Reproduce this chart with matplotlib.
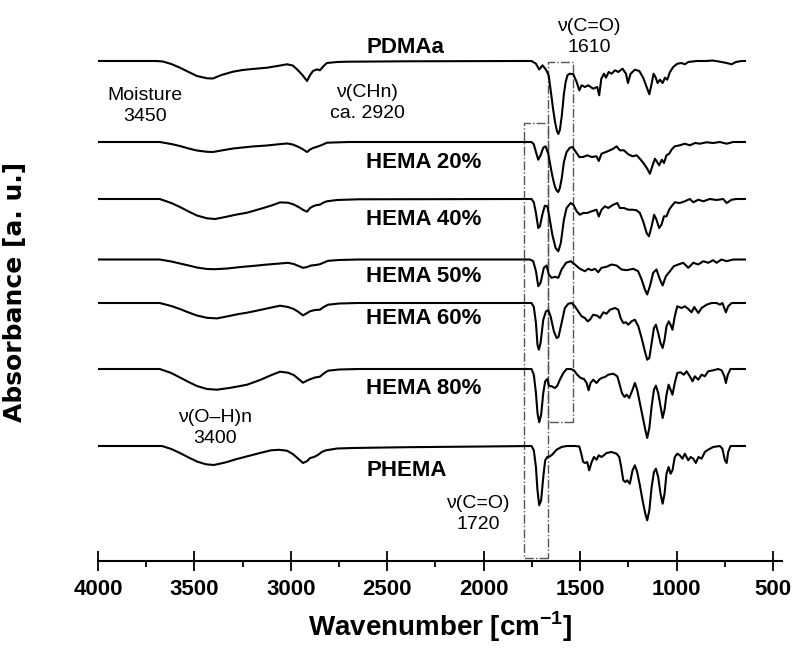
import numpy as np
import matplotlib
matplotlib.use("Agg")
import matplotlib.pyplot as plt
from matplotlib.patches import Rectangle

plt.rcParams["font.family"] = ["Liberation Sans", "DejaVu Sans"]
plt.rcParams["mathtext.fontset"] = "custom"
plt.rcParams["mathtext.rm"] = "Liberation Sans"
plt.rcParams["mathtext.bf"] = "Liberation Sans:bold"

# FTIR spectra: (wavenumber cm-1, signal relative to baseline, a.u.)
pdmaa = [
    (4000, 0), (3700, 0), (3663, -0.5), (3620, -3), (3575, -6.7), (3530, -11), (3487, -15),
    (3435, -17.3), (3404, -17.5), (3360, -14), (3300, -10.7), (3250, -9), (3200, -8),
    (3124, -6.7), (3070, -5), (3020, -3.3), (2990, -4.5), (2968, -8.3), (2940, -14),
    (2916, -20), (2900, -14), (2885, -10), (2864, -8.3), (2849, -9.3), (2830, -5),
    (2813, -2), (2760, -1), (2709, -0.7), (2400, -0.3), (1800, 0), (1752, 0), (1729, -2.7),
    (1712, -8.5), (1695, -4.3), (1677, -8.7), (1663, -14.3), (1648, -36), (1640, -48),
    (1630, -61), (1620, -70), (1613, -73), (1605, -69), (1595, -55), (1584, -33),
    (1575, -21), (1565, -14), (1553, -12.7), (1535, -13.3), (1518, -21), (1504, -29.3),
    (1492, -24.3), (1475, -26), (1458, -24.3), (1432, -27.7), (1411, -26), (1401, -34.3),
    (1390, -17.7), (1376, -12.7), (1366, -16.7), (1352, -11), (1337, -12.7), (1319, -9.3),
    (1302, -11), (1280, -7.7), (1262, -12.7), (1252, -22), (1238, -12.7), (1216, -8.7),
    (1193, -10), (1173, -16.7), (1155, -26), (1141, -33.3), (1129, -22.7), (1119, -12.7),
    (1109, -16), (1098, -22), (1086, -18.7), (1072, -22), (1060, -16.7), (1048, -18.7),
    (1034, -11), (1017, -6), (996, -2.7), (974, -2), (957, -3.3), (939, -1), (896, 0),
    (844, 0), (813, 0.5), (775, -0.7), (740, -2), (714, -3.3), (692, -1), (662, 0), (645, 0),
]

hema20 = [
    (4000, 0), (3680, 0), (3620, -2), (3575, -4), (3530, -6.5), (3487, -8.5), (3435, -9.8),
    (3404, -10), (3360, -8.5), (3300, -6.5), (3200, -4.5), (3124, -3.5), (3050, -2),
    (3020, -1.5), (2990, -2.5), (2965, -4.5), (2940, -7), (2916, -10), (2900, -7.5),
    (2885, -6), (2860, -4.5), (2839, -3), (2813, -0.7), (2700, 0), (1752, 0), (1740, -2.3),
    (1729, -10), (1717, -17.7), (1705, -13.3), (1691, -5.7), (1679, -4.3), (1665, -11.7),
    (1648, -30), (1638, -39), (1630, -45), (1620, -49), (1613, -50), (1605, -46),
    (1595, -36), (1584, -20), (1570, -10), (1553, -5.7), (1539, -5), (1522, -10),
    (1504, -15), (1484, -15), (1463, -13.3), (1440, -15), (1415, -14.3), (1403, -19),
    (1389, -11.7), (1366, -10), (1345, -8.3), (1328, -6.7), (1311, -4.3), (1294, -8.3),
    (1273, -8.3), (1250, -12.3), (1228, -14.3), (1207, -13.3), (1190, -16.7), (1169, -21.7),
    (1152, -26.7), (1138, -31.7), (1124, -23.3), (1112, -16.7), (1104, -19), (1090, -23.3),
    (1076, -17.7), (1065, -21), (1052, -13.3), (1038, -11.7), (1026, -7.7), (1009, -4.3),
    (983, -3.3), (957, -1.7), (931, -3.3), (904, -1), (879, -1.7), (844, -0.3), (810, -1),
    (775, 0), (740, -1.7), (706, 0), (645, 0),
]

hema40 = [
    (4000, 0), (3680, 0), (3620, -4), (3575, -8), (3530, -12.5), (3487, -16.5), (3435, -19.3),
    (3393, -20), (3340, -18), (3280, -15.5), (3227, -13.7), (3160, -10), (3100, -6.5),
    (3056, -3.4), (3015, -3.7), (2985, -5.5), (2960, -8), (2935, -11), (2916, -12.7),
    (2900, -9), (2885, -7.3), (2865, -6), (2849, -5.7), (2830, -3.5), (2813, -2.3),
    (2760, -1), (2650, -0.3), (1752, 0), (1740, -3.3), (1729, -14), (1717, -29),
    (1708, -27.3), (1696, -15.7), (1683, -6.7), (1670, -7.3), (1660, -17.3), (1644, -35.7),
    (1627, -49), (1613, -52.3), (1600, -44), (1584, -20.7), (1570, -9), (1549, -4),
    (1535, -5.7), (1518, -12.3), (1501, -15.7), (1484, -14), (1463, -14), (1440, -12.3),
    (1415, -10.7), (1403, -17.5), (1389, -10.7), (1371, -7.3), (1354, -9), (1328, -5.7),
    (1307, -4), (1294, -9), (1273, -9), (1250, -10.7), (1228, -10.7), (1207, -11.3),
    (1190, -14), (1173, -22.3), (1155, -34), (1143, -37.3), (1129, -27.3), (1116, -15.7),
    (1104, -20.7), (1090, -29), (1078, -25.7), (1065, -17.3), (1052, -17.3), (1038, -10.7),
    (1026, -7.3), (1009, -3.3), (983, -4), (957, -2.3), (931, 0), (913, -3.3), (887, -0.7),
    (861, -2.3), (827, 0), (792, -1), (758, 0), (740, -4), (714, -0.7), (689, 0), (645, 0),
]

hema50 = [
    (4000, 0), (3680, 0), (3620, -2), (3575, -4), (3530, -6), (3487, -8), (3435, -9.5),
    (3393, -9.7), (3330, -9), (3260, -7.5), (3200, -6.5), (3120, -5), (3056, -4),
    (3015, -3.3), (2985, -4.5), (2960, -6.5), (2937, -8.3), (2915, -7.5), (2895, -6),
    (2870, -5.5), (2849, -4.7), (2807, -1.3), (2750, -0.5), (2650, 0), (1760, 0),
    (1743, -1.7), (1729, -11.7), (1717, -26.7), (1705, -23.3), (1688, -8.3), (1674, -6),
    (1662, -15), (1648, -18.3), (1630, -17.3), (1613, -18.3), (1596, -10), (1573, -3.3),
    (1549, -1.7), (1527, -5), (1501, -9.3), (1475, -11.7), (1458, -9.3), (1440, -10.7),
    (1423, -9.3), (1406, -12.7), (1389, -8.3), (1363, -7.3), (1337, -5), (1311, -6),
    (1285, -10), (1259, -10.7), (1224, -9.3), (1199, -11.7), (1181, -20), (1164, -30),
    (1152, -35), (1138, -26.7), (1121, -13.3), (1104, -10), (1086, -20), (1072, -26),
    (1055, -16.7), (1034, -11.7), (1014, -6.7), (991, -5), (965, -3.3), (939, -8.3),
    (913, -3.3), (887, -5), (861, -1.7), (836, -3.3), (810, -0.7), (792, -3.3), (767, 0),
    (740, -1.7), (706, 0), (645, 0),
]

hema60 = [
    (4000, 0), (3680, 0), (3620, -3), (3575, -6), (3530, -9.5), (3487, -12.5), (3435, -14.8),
    (3383, -15.4), (3320, -13), (3270, -11), (3227, -9.7), (3160, -7), (3100, -4.5),
    (3056, -2.7), (3015, -4), (2985, -6), (2960, -9), (2937, -12.4), (2920, -10.5),
    (2901, -8.3), (2875, -7), (2849, -6.7), (2830, -4), (2807, -1.7), (2750, -0.5),
    (2650, 0), (1752, 0), (1740, -4), (1729, -20), (1721, -41.7), (1714, -46.7),
    (1705, -40), (1691, -16.7), (1677, -8.3), (1665, -7.3), (1653, -13.3), (1636, -28.3),
    (1622, -35), (1612, -34), (1596, -20), (1579, -5), (1561, -0.7), (1544, 0),
    (1527, -3.3), (1510, -8.3), (1492, -13.3), (1475, -15), (1461, -18.3), (1449, -16.7),
    (1432, -11.7), (1411, -12.7), (1397, -15), (1380, -9.3), (1363, -10.7), (1345, -6.7),
    (1319, -5), (1302, -6.7), (1290, -15), (1276, -20), (1262, -19.3), (1250, -21.7),
    (1233, -18.3), (1216, -16.7), (1198, -23.3), (1181, -35), (1164, -48.3), (1152, -56.7),
    (1141, -55), (1129, -40), (1117, -25), (1107, -21.7), (1095, -30), (1083, -40),
    (1072, -45), (1062, -36.7), (1052, -23.3), (1040, -18.3), (1031, -21.7), (1021, -26.7),
    (1009, -13.3), (996, -3.3), (974, -5), (957, -3.3), (939, -6), (922, -9.3), (908, -4),
    (887, -10), (870, -5), (844, -1.7), (818, 0), (792, 0), (775, -1.7), (762, 0),
    (744, -9.3), (732, -3.3), (714, 0), (645, 0),
]

hema80 = [
    (4000, 0), (3680, 0), (3620, -4), (3575, -8.5), (3530, -13), (3487, -17), (3435, -20),
    (3383, -20.7), (3320, -19), (3270, -17.3), (3227, -15.7), (3160, -11), (3100, -6),
    (3056, -2.7), (3015, -3.7), (2985, -6), (2960, -10), (2937, -13.7), (2920, -12),
    (2901, -10.3), (2875, -8.5), (2849, -7.7), (2830, -4.5), (2807, -1.7), (2750, -0.5),
    (2650, 0), (1752, 0), (1740, -5.7), (1729, -24), (1721, -44), (1712, -53.3),
    (1702, -45.7), (1691, -24), (1681, -12.3), (1670, -10), (1662, -16.7), (1648, -17.3),
    (1630, -19), (1618, -16.7), (1605, -10.7), (1587, -4), (1570, 0), (1549, 0),
    (1532, -1.3), (1515, -5.7), (1497, -9), (1480, -10), (1466, -14), (1456, -21.3),
    (1446, -14), (1432, -10.7), (1415, -14), (1401, -10.7), (1389, -9), (1371, -8),
    (1354, -5.7), (1328, -4.7), (1307, -7.3), (1297, -14), (1283, -24), (1270, -28),
    (1259, -25.7), (1245, -29), (1228, -20.7), (1216, -14), (1204, -20.7), (1190, -34),
    (1176, -47.3), (1162, -60.7), (1152, -69), (1141, -59), (1129, -37.3), (1117, -20.7),
    (1107, -16.7), (1095, -24), (1083, -37.3), (1072, -49), (1062, -40.7), (1052, -25.7),
    (1041, -15.7), (1031, -20.7), (1021, -25.7), (1009, -14), (996, -4), (979, -3.3),
    (962, -5.7), (948, -2.3), (931, -7.3), (917, -12.3), (905, -7.3), (887, -10.7),
    (870, -5.7), (853, -7.3), (836, -2.3), (810, -1.3), (784, 0), (766, -1.3), (752, -7.3),
    (744, -14), (734, -5.7), (720, 0), (645, 0),
]

phema = [
    (4000, 0), (3668, 0), (3620, -3), (3575, -7), (3530, -11.5), (3487, -15.5), (3440, -18.3),
    (3399, -19), (3340, -16.5), (3280, -13), (3220, -10), (3160, -7), (3103, -4.3),
    (3060, -3.8), (3020, -4.7), (2990, -8), (2960, -13), (2937, -17), (2915, -15),
    (2900, -12), (2880, -11), (2860, -9), (2840, -6), (2818, -4.3), (2760, -2.5),
    (2678, -2), (2400, -1.2), (2000, -0.5), (1752, 0), (1740, -4.3), (1729, -21),
    (1721, -44.3), (1712, -59.3), (1702, -54.3), (1691, -31), (1681, -14.3), (1670, -11),
    (1656, -10.3), (1643, -8.3), (1622, -3.7), (1596, -1), (1570, 0), (1527, 0),
    (1504, -0.5), (1494, -7.7), (1484, -16), (1473, -17), (1463, -16), (1453, -24.3),
    (1440, -16), (1428, -11), (1415, -13.7), (1403, -9.3), (1389, -11), (1377, -9.3),
    (1363, -7), (1337, -6), (1311, -7.7), (1297, -11), (1287, -21), (1276, -34.3),
    (1266, -36), (1256, -34.3), (1242, -37.7), (1228, -24.3), (1216, -19.3), (1204, -26),
    (1190, -39.3), (1176, -54.3), (1162, -67.7), (1152, -74.3), (1141, -64.3), (1129, -41),
    (1117, -26), (1107, -22.7), (1095, -31), (1083, -47.7), (1072, -57.7), (1062, -47.7),
    (1052, -27.7), (1041, -21), (1031, -27.7), (1021, -24.3), (1009, -11), (996, -7.7),
    (983, -9.3), (969, -12.7), (957, -7.7), (939, -14.3), (927, -11), (913, -12.7),
    (900, -17), (886, -11), (870, -12.7), (853, -6), (836, -3.7), (810, -1), (775, 0),
    (762, -2.7), (749, -14.3), (740, -17), (732, -6), (720, 0), (645, 0),
]

names = ["PDMAa", "HEMA 20%", "HEMA 40%", "HEMA 50%", "HEMA 60%", "HEMA 80%", "PHEMA"]
spectra = [pdmaa, hema20, hema40, hema50, hema60, hema80, phema]

# carbonyl bands framed by dash-dot boxes (wavenumber ranges)
amide_co = (1667, 1537)
ester_co = (1791, 1667)

tick_vals = [4000, 3500, 3000, 2500, 2000, 1500, 1000, 500]

# layout: vertical stacking offsets and label placement
offsets = [500, 419, 362, 301.5, 258, 192, 115]
label_y = [514, 399, 342, 285, 243, 172, 91]
label_wn = 2610

fig = plt.figure(figsize=(7.94, 6.48), dpi=100)
ax = fig.add_axes([98 / 794, 87 / 648, 684 / 794, 561 / 648])

for spec, off in zip(spectra, offsets):
    wn, sig = np.array(spec, dtype=float).T
    ax.plot(wn, sig + off, color="black", lw=1.5, solid_joinstyle="round")

for name, y in zip(names, label_y):
    ax.text(label_wn, y, name, ha="left", va="center", fontsize=16, fontweight="bold")

box_style = dict(fill=False, ec="#555555", lw=1.0, ls="-.")
ax.add_patch(Rectangle((amide_co[1], 139), amide_co[0] - amide_co[1], 360, **box_style))
ax.add_patch(Rectangle((ester_co[1], 3), ester_co[0] - ester_co[1], 435, **box_style))

note = dict(ha="center", va="center", fontsize=14, linespacing=1.25)
ax.text(3756, 455, "Moisture\n3450", **note)
ax.text(2605, 458, "\u03bd(CHn)\nca. 2920", **note)
ax.text(1454, 524, "\u03bd(C=O)\n1610", **note)
ax.text(3393, 133, "\u03bd(O\u2013H)n\n3400", **note)
ax.text(2030, 47, "\u03bd(C=O)\n1720", **note)

ax.set_xlim(4000, 453)
ax.set_ylim(0, 561)
ax.set_xticks(tick_vals)
ax.set_xticklabels([str(v) for v in tick_vals], fontweight="bold")
ax.set_xticks(np.arange(3750, 500, -500), minor=True)
ax.tick_params(axis="x", which="major", direction="inout", length=14, width=1.3,
               pad=6, labelsize=16)
ax.tick_params(axis="x", which="minor", direction="out", length=4, width=1.3)
ax.set_yticks([])
for side in ["left", "top", "right"]:
    ax.spines[side].set_visible(False)
ax.spines["bottom"].set_linewidth(1.5)

ax.set_xlabel(r"Wavenumber [cm$^{\mathbf{-1}}$]", fontsize=20, fontweight="bold", labelpad=7)
ax.set_ylabel("Absorbance [a. u.]", fontsize=18, fontweight="bold", family="DejaVu Sans")
ax.yaxis.set_label_coords(-0.104, 0.48)

fig.savefig("out.png", dpi=100)
